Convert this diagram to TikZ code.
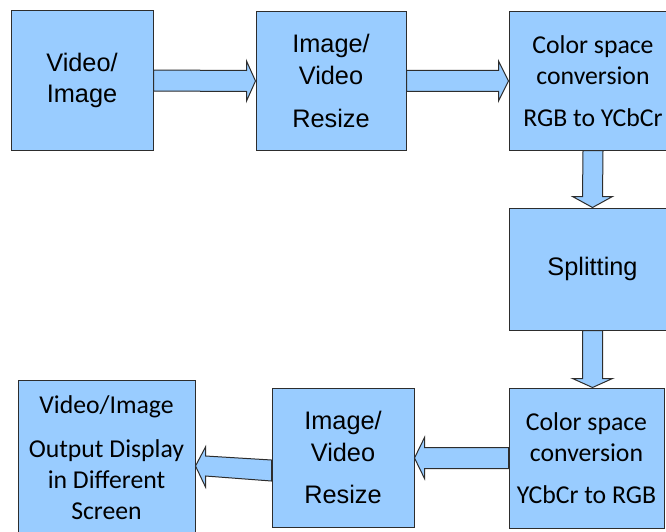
\documentclass[tikz,border=0pt]{standalone}
\usepackage{fontspec}
\setmainfont{Liberation Sans}
\newfontfamily\calib{Carlito}
\usetikzlibrary{calc}
\definecolor{boxblue}{RGB}{153,204,255}
\definecolor{edgec}{RGB}{45,45,45}
\tikzset{
 box/.style={draw=edgec, fill=boxblue, line width=0.75pt, inner sep=0pt, align=center, font=\fontsize{19}{23.5}\selectfont},
 cbox/.style={box, font=\calib\fontsize{19.3}{23.5}\selectfont},
 sz/.style 2 args={minimum width=#1*0.75pt, minimum height=#2*0.75pt},
 blk/.style={draw=edgec, fill=boxblue, line width=0.75pt, line join=miter}
}
\begin{document}
\begin{tikzpicture}[x=0.75pt,y=-0.75pt]
\useasboundingbox (0,0) rectangle (666,531);
\fill[white] (0,0) rectangle (666,531);
% boxes
\node[box, sz={142}{139}] (b1) at (82,80.5) {Video/\\Image};
\node[box, sz={150}{138}] (b2) at (331,81) {Image/\\Video\\[9pt]Resize};
\node[cbox, sz={168}{138}] (b3) at (593,81) {Color space\\conversion\\[8pt]RGB to YCbCr};
\node[box, sz={167}{122}] (s) at (592.5,269) {Splitting};
\node[cbox, sz={155}{140}] (b5) at (586.5,458) {Color space\\conversion\\[8pt]YCbCr to RGB};
\node[box, sz={142}{139}] (b6) at (343,457.5) {Image/\\Video\\[8pt]Resize};
\node[cbox, sz={177}{156}] (b7) at (106.5,458) {Video/Image\\[9pt]Output Display\\in Different\\Screen};
% block arrows
\draw[blk] ($(b1.east)+(0,-10.5)$) -- ($(b2.west)+(-9,-10.5)$) -- ($(b2.west)+(-9,-20)$)
  -- (b2.west) -- ($(b2.west)+(-9,20)$) -- ($(b2.west)+(-9,10.5)$) -- ($(b1.east)+(0,10.5)$) -- cycle;
\draw[blk] ($(b2.east)+(0,-10.5)$) -- ($(b3.west)+(-10,-10.5)$) -- ($(b3.west)+(-10,-20)$)
  -- (b3.west) -- ($(b3.west)+(-10,20)$) -- ($(b3.west)+(-10,10.5)$) -- ($(b2.east)+(0,10.5)$) -- cycle;
\draw[blk] ($(b3.south)+(-10,0)$) -- ($(s.north)+(-10,-11)$) -- ($(s.north)+(-20,-11)$)
  -- (s.north) -- ($(s.north)+(20,-11)$) -- ($(s.north)+(10,-11)$) -- ($(b3.south)+(10,0)$) -- cycle;
\coordinate (t4) at (s.south |- b5.north);
\draw[blk] ($(s.south)+(-10,0)$) -- ($(t4)+(-10,-9)$) -- ($(t4)+(-20,-9)$)
  -- (t4) -- ($(t4)+(20,-9)$) -- ($(t4)+(10,-9)$) -- ($(s.south)+(10,0)$) -- cycle;
\coordinate (t5) at ($(b6.east)+(0,0.5)$);
\draw[blk] ($(b5.west)+(0,-10.5)$) -- ($(t5)+(10,-10.5)$) -- ($(t5)+(10,-20.5)$)
  -- (t5) -- ($(t5)+(10,20.5)$) -- ($(t5)+(10,10.5)$) -- ($(b5.west)+(0,10.5)$) -- cycle;
\coordinate (t6) at ($(b7.east)+(0,8)$);
\draw[blk] ($(b6.west)+(0,2.5)$) -- ($(t6)+(10,-10)$) -- ($(t6)+(10,-19)$)
  -- (t6) -- ($(t6)+(10,21)$) -- ($(t6)+(10,10)$) -- ($(b6.west)+(0,23.5)$) -- cycle;
\end{tikzpicture}
\end{document}
